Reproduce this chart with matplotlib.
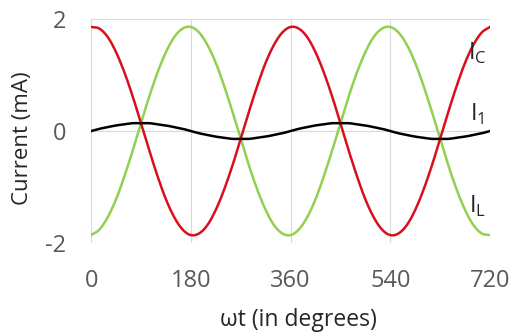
import matplotlib

matplotlib.use("Agg")
import matplotlib.pyplot as plt
import numpy as np

# --- data (15 degree steps) --------------------------------------------------
wt_deg = list(range(0, 721, 15))

i_c = [1.86, 1.83, 1.68, 1.41, 1.05, 0.62, 0.14, -0.35, -0.81, -1.22, -1.54, -1.76,
       -1.86, -1.83, -1.68, -1.41, -1.05, -0.62, -0.14, 0.35, 0.81, 1.22, 1.54, 1.76,
       1.86, 1.83, 1.68, 1.41, 1.05, 0.62, 0.14, -0.35, -0.81, -1.22, -1.54, -1.76,
       -1.86, -1.83, -1.68, -1.41, -1.05, -0.62, -0.14, 0.35, 0.81, 1.22, 1.54, 1.76,
       1.86]
i_l = [-1.86, -1.76, -1.54, -1.22, -0.81, -0.35, 0.14, 0.62, 1.05, 1.41, 1.68, 1.83,
       1.86, 1.76, 1.54, 1.22, 0.81, 0.35, -0.14, -0.62, -1.05, -1.41, -1.68, -1.83,
       -1.86, -1.76, -1.54, -1.22, -0.81, -0.35, 0.14, 0.62, 1.05, 1.41, 1.68, 1.83,
       1.86, 1.76, 1.54, 1.22, 0.81, 0.35, -0.14, -0.62, -1.05, -1.41, -1.68, -1.83,
       -1.86]
i_1 = [0.0, 0.04, 0.07, 0.10, 0.12, 0.14, 0.14, 0.14, 0.12, 0.10, 0.07, 0.04,
       0.0, -0.04, -0.07, -0.10, -0.12, -0.14, -0.14, -0.14, -0.12, -0.10, -0.07, -0.04,
       0.0, 0.04, 0.07, 0.10, 0.12, 0.14, 0.14, 0.14, 0.12, 0.10, 0.07, 0.04,
       0.0, -0.04, -0.07, -0.10, -0.12, -0.14, -0.14, -0.14, -0.12, -0.10, -0.07, -0.04,
       0.0]

x_ticks = [0, 180, 360, 540, 720]
y_ticks = [-2, 0, 2]

# curve labels: (text, x, y)
curve_labels = [("I$_\\mathregular{C}$", 697, 1.38),
                ("I$_\\mathregular{1}$", 697, 0.30),
                ("I$_\\mathregular{L}$", 697, -1.34)]


def smooth(x, y, n=12):
    """Catmull-Rom pass through the points, like a 'smoothed line' chart."""
    x = np.asarray(x, float)
    y = np.asarray(y, float)
    px = np.concatenate([[2 * x[0] - x[1]], x, [2 * x[-1] - x[-2]]])
    py = np.concatenate([[2 * y[0] - y[1]], y, [2 * y[-1] - y[-2]]])
    t = np.linspace(0, 1, n, endpoint=False)[:, None]
    out_x, out_y = [], []
    for p in (px, py):
        p0, p1, p2, p3 = p[:-3], p[1:-2], p[2:-1], p[3:]
        seg = 0.5 * (2 * p1 + (-p0 + p2) * t
                     + (2 * p0 - 5 * p1 + 4 * p2 - p3) * t ** 2
                     + (-p0 + 3 * p1 - 3 * p2 + p3) * t ** 3)
        (out_x if p is px else out_y).append(np.append(seg.T.ravel(), p[-2]))
    return out_x[0], out_y[0]


plt.rcParams["font.family"] = ["Open Sans", "DejaVu Sans"]
plt.rcParams["axes.unicode_minus"] = False

fig = plt.figure(figsize=(5.12, 3.36), dpi=100)
ax = fig.add_axes([0.178, 0.277, 0.779, 0.666])

ax.plot(*smooth(wt_deg, i_l), color="#92d050", lw=1.8, zorder=3)
ax.plot(*smooth(wt_deg, i_c), color="#d9101c", lw=1.8, zorder=4)
ax.plot(*smooth(wt_deg, i_1), color="black", lw=1.8, zorder=5)

ax.set_xlim(0, 720)
ax.set_ylim(-2, 2)
ax.set_xticks(x_ticks)
ax.set_yticks(y_ticks)
ax.grid(True, color="#d9d9d9", lw=0.8)
ax.set_axisbelow(True)
for s in ax.spines.values():
    s.set_visible(False)
ax.tick_params(length=0, labelsize=17, labelcolor="#595959")
ax.tick_params(axis="x", pad=19)
ax.tick_params(axis="y", pad=18)

ax.set_xlabel("ωt (in degrees)", fontsize=16.5, color="#262626", va="center")
ax.set_ylabel("Current (mA)", fontsize=16, color="#262626",
              va="center", ha="center")
ax.xaxis.set_label_coords(0.52, -0.345)
ax.yaxis.set_label_coords(-0.173, 0.47)

for txt, x, y in curve_labels:
    ax.text(x, y, txt, fontsize=17, color="#262626", ha="center", va="center",
            zorder=6)

fig.savefig("out.png", dpi=100)
